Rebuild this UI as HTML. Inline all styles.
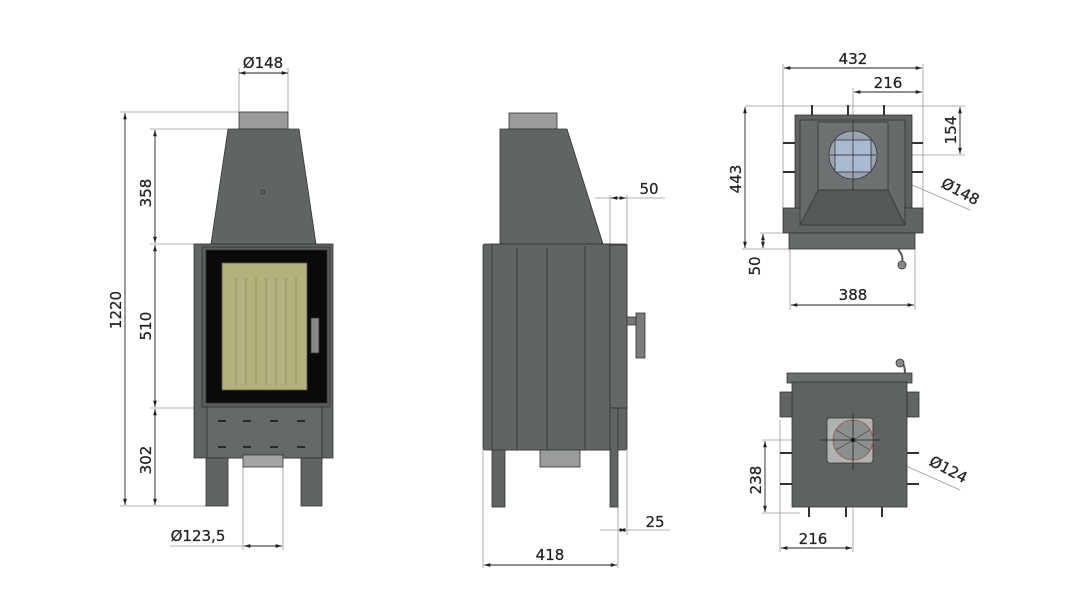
<!DOCTYPE html>
<html><head><meta charset="utf-8"><style>
html,body{margin:0;padding:0;background:#fff;}
svg{display:block;}
text{font-family:"DejaVu Sans","Liberation Sans",sans-serif;font-size:15px;fill:#222;stroke:#222;stroke-width:0.25px;}
</style></head><body>
<svg width="1070" height="589" viewBox="0 0 1070 589" xmlns="http://www.w3.org/2000/svg">
<defs>
<marker id="a" viewBox="0 0 10 10" refX="10" refY="5" markerWidth="7" markerHeight="7" orient="auto-start-reverse"><path d="M0,2 L10,5 L0,8 z" fill="#222"/></marker>
</defs>
<g stroke="#999" stroke-width="0.8" fill="none">
<line x1="239" y1="68" x2="239" y2="112"/><line x1="288" y1="68" x2="288" y2="112"/>
<line x1="120" y1="112" x2="239" y2="112"/><line x1="150" y1="129" x2="228" y2="129"/>
<line x1="150" y1="244" x2="211" y2="244"/><line x1="150" y1="408" x2="207" y2="408"/>
<line x1="120" y1="506" x2="206" y2="506"/>
<line x1="243" y1="467" x2="243" y2="550"/><line x1="283" y1="467" x2="283" y2="550"/>
<line x1="170" y1="546" x2="243" y2="546"/>
<line x1="610" y1="195" x2="610" y2="245"/><line x1="627" y1="195" x2="627" y2="535"/>
<line x1="595" y1="198" x2="665" y2="198"/>
<line x1="618" y1="507" x2="618" y2="568"/><line x1="483" y1="450" x2="483" y2="568"/>
<line x1="600" y1="530" x2="670" y2="530"/>
<line x1="783" y1="64" x2="783" y2="208"/><line x1="923" y1="64" x2="923" y2="208"/>
<line x1="853" y1="88" x2="853" y2="200"/>
<line x1="745" y1="106" x2="965" y2="106"/><line x1="830" y1="155" x2="965" y2="155"/>
<line x1="742" y1="249" x2="790" y2="249"/><line x1="760" y1="233" x2="790" y2="233"/>
<line x1="790" y1="249" x2="790" y2="310"/><line x1="915" y1="249" x2="915" y2="310"/>
<line x1="873" y1="168" x2="970" y2="210"/>
<line x1="762" y1="440" x2="880" y2="440"/><line x1="762" y1="513" x2="800" y2="513"/>
<line x1="780" y1="420" x2="780" y2="552"/><line x1="853" y1="418" x2="853" y2="552"/>
<line x1="870" y1="450" x2="960" y2="490"/>
</g>
<g stroke="#222" stroke-width="0.9" fill="none" marker-start="url(#a)" marker-end="url(#a)">
<line x1="239" y1="73" x2="288" y2="73"/>
<line x1="125" y1="113" x2="125" y2="505"/>
<line x1="155" y1="130" x2="155" y2="243"/><line x1="155" y1="245" x2="155" y2="407"/><line x1="155" y1="409" x2="155" y2="505"/>
<line x1="244" y1="546" x2="282" y2="546"/>
<line x1="611" y1="198" x2="626" y2="198"/>
<line x1="619" y1="530" x2="626" y2="530"/>
<line x1="484" y1="565" x2="617" y2="565"/>
<line x1="784" y1="68" x2="922" y2="68"/>
<line x1="854" y1="92" x2="922" y2="92"/>
<line x1="960" y1="107" x2="960" y2="154"/>
<line x1="745" y1="107" x2="745" y2="248"/>
<line x1="763" y1="234" x2="763" y2="248"/>
<line x1="791" y1="305" x2="914" y2="305"/>
<line x1="765" y1="441" x2="765" y2="512"/>
<line x1="781" y1="548" x2="852" y2="548"/>
</g>
<g stroke="#333" stroke-width="0.8">
<rect x="239" y="112" width="49" height="17" fill="#9a9c9c"/>
<polygon points="228,129 299,129 316,244 211,244" fill="#616465"/>
<circle cx="263" cy="192" r="2" fill="none"/>
<rect x="194" y="244" width="139" height="214" fill="#616465"/>
<rect x="202" y="247" width="128" height="160" fill="#5a5d5e"/>
<rect x="206" y="250" width="121" height="153" fill="#0a0a0a"/>
<rect x="222" y="263" width="85" height="127" fill="#b3b17c" stroke="#555"/>
<rect x="207" y="407" width="115" height="51" fill="#666969"/>
<rect x="206" y="458" width="22" height="48" fill="#616465"/>
<rect x="301" y="458" width="21" height="48" fill="#616465"/>
<rect x="243" y="455" width="40" height="12" fill="#a3a5a5"/>
<rect x="311" y="318" width="8" height="35" fill="#888" stroke="#333"/>
</g>
<g stroke="#8f8e62" stroke-width="1">
<line x1="236" y1="278" x2="236" y2="385"/><line x1="246" y1="278" x2="246" y2="385"/><line x1="256" y1="278" x2="256" y2="385"/><line x1="266" y1="278" x2="266" y2="385"/><line x1="276" y1="278" x2="276" y2="385"/><line x1="286" y1="278" x2="286" y2="385"/><line x1="296" y1="278" x2="296" y2="385"/>
</g>
<g fill="#2a2a2a">
<rect x="218" y="420" width="8" height="2"/><rect x="243" y="420" width="8" height="2"/><rect x="270" y="420" width="8" height="2"/><rect x="297" y="420" width="8" height="2"/>
<rect x="218" y="446" width="8" height="2"/><rect x="243" y="446" width="8" height="2"/><rect x="270" y="446" width="8" height="2"/><rect x="297" y="446" width="8" height="2"/>
</g>
<g stroke="#333" stroke-width="0.8">
<rect x="509" y="113" width="48" height="16" fill="#9a9c9c"/>
<polygon points="500,129 567,129 603,244 500,244" fill="#616465"/>
<rect x="483" y="244" width="144" height="206" rx="2" fill="#616465"/>
<rect x="492" y="244" width="118" height="206" fill="#616465"/>
<rect x="610" y="245" width="17" height="163" fill="#646768"/>
<line x1="517" y1="248" x2="517" y2="450"/><line x1="547" y1="248" x2="547" y2="450"/><line x1="585" y1="246" x2="585" y2="450"/>
<rect x="492" y="450" width="13" height="57" fill="#616465"/>
<rect x="610" y="408" width="8" height="99" fill="#616465"/>
<rect x="540" y="450" width="40" height="17" fill="#9a9c9c"/>
<rect x="627" y="317" width="9" height="8" fill="#777"/>
<rect x="636" y="313" width="9" height="45" fill="#7a7c7c"/>
</g>
<g stroke="#333" stroke-width="0.8">
<rect x="795" y="115" width="117" height="118" fill="#5f6263"/>
<rect x="783" y="208" width="140" height="25" fill="#616465"/>
<rect x="789" y="233" width="126" height="16" fill="#666969"/>
<rect x="800" y="120" width="105" height="105" fill="#676a6b"/>
<rect x="818" y="122" width="70" height="68" fill="#6e7172"/>
<polygon points="818,190 888,190 905,225 800,225" fill="#56595a"/>
<circle cx="853" cy="155" r="24" fill="#9aa3b0"/>
<rect x="835" y="140" width="36" height="32" fill="#a9bad2"/>
<path d="M898,249 q6,8 4,12" fill="none" stroke="#555" stroke-width="2"/>
<circle cx="902" cy="265" r="4" fill="#888"/>
</g>
<g stroke="#333" stroke-width="2">
<line x1="812" y1="115" x2="812" y2="105"/><line x1="848" y1="115" x2="848" y2="105"/><line x1="884" y1="115" x2="884" y2="105"/>
<line x1="783" y1="143" x2="795" y2="143"/><line x1="783" y1="172" x2="795" y2="172"/><line x1="912" y1="143" x2="923" y2="143"/><line x1="912" y1="172" x2="923" y2="172"/>
</g>
<line x1="830" y1="155" x2="876" y2="155" stroke="#222" stroke-width="0.7"/><line x1="853" y1="120" x2="853" y2="190" stroke="#222" stroke-width="0.7"/>
<g stroke="#333" stroke-width="0.8">
<rect x="787" y="373" width="125" height="10" fill="#6a6d6e"/>
<rect x="792" y="382" width="115" height="125" fill="#5f6263"/>
<rect x="780" y="392" width="12" height="25" fill="#616465"/>
<rect x="907" y="392" width="12" height="25" fill="#616465"/>
<rect x="827" y="418" width="46" height="45" rx="3" fill="#b0b2b2"/>
<circle cx="853" cy="440" r="20" fill="#8c8f90" stroke="#a0503a"/>
<path d="M853,440 L853,420 M853,440 L870,430 M853,440 L870,450 M853,440 L853,460 M853,440 L836,450 M853,440 L836,430" stroke="#555"/>
<circle cx="853" cy="440" r="2" fill="#111"/>
<path d="M905,373 q0,-8 -4,-12" fill="none" stroke="#555" stroke-width="2"/>
<circle cx="900" cy="363" r="4" fill="#888"/>
</g>
<g stroke="#333" stroke-width="2">
<line x1="809" y1="507" x2="809" y2="517"/><line x1="846" y1="507" x2="846" y2="517"/><line x1="882" y1="507" x2="882" y2="517"/>
<line x1="780" y1="453" x2="792" y2="453"/><line x1="780" y1="484" x2="792" y2="484"/><line x1="907" y1="453" x2="919" y2="453"/><line x1="907" y1="484" x2="919" y2="484"/>
</g>
<line x1="820" y1="440" x2="880" y2="440" stroke="#222" stroke-width="0.7"/><line x1="853" y1="413" x2="853" y2="470" stroke="#222" stroke-width="0.7"/>
<text x="263" y="68" text-anchor="middle">Ø148</text>
<text transform="translate(121,310) rotate(-90)" text-anchor="middle">1220</text>
<text transform="translate(151,193) rotate(-90)" text-anchor="middle">358</text>
<text transform="translate(151,326) rotate(-90)" text-anchor="middle">510</text>
<text transform="translate(151,460) rotate(-90)" text-anchor="middle">302</text>
<text x="198" y="541" text-anchor="middle">Ø123,5</text>
<text x="649" y="194" text-anchor="middle">50</text>
<text x="655" y="527" text-anchor="middle">25</text>
<text x="550" y="560" text-anchor="middle">418</text>
<text x="853" y="64" text-anchor="middle">432</text>
<text x="888" y="88" text-anchor="middle">216</text>
<text transform="translate(956,130) rotate(-90)" text-anchor="middle">154</text>
<text transform="translate(741,179) rotate(-90)" text-anchor="middle">443</text>
<text transform="translate(760,266) rotate(-90)" text-anchor="middle">50</text>
<text x="853" y="300" text-anchor="middle">388</text>
<text transform="translate(958,196) rotate(28)" text-anchor="middle">Ø148</text>
<text transform="translate(761,480) rotate(-90)" text-anchor="middle">238</text>
<text x="813" y="544" text-anchor="middle">216</text>
<text transform="translate(946,474) rotate(28)" text-anchor="middle">Ø124</text>
</svg>
</body></html>
